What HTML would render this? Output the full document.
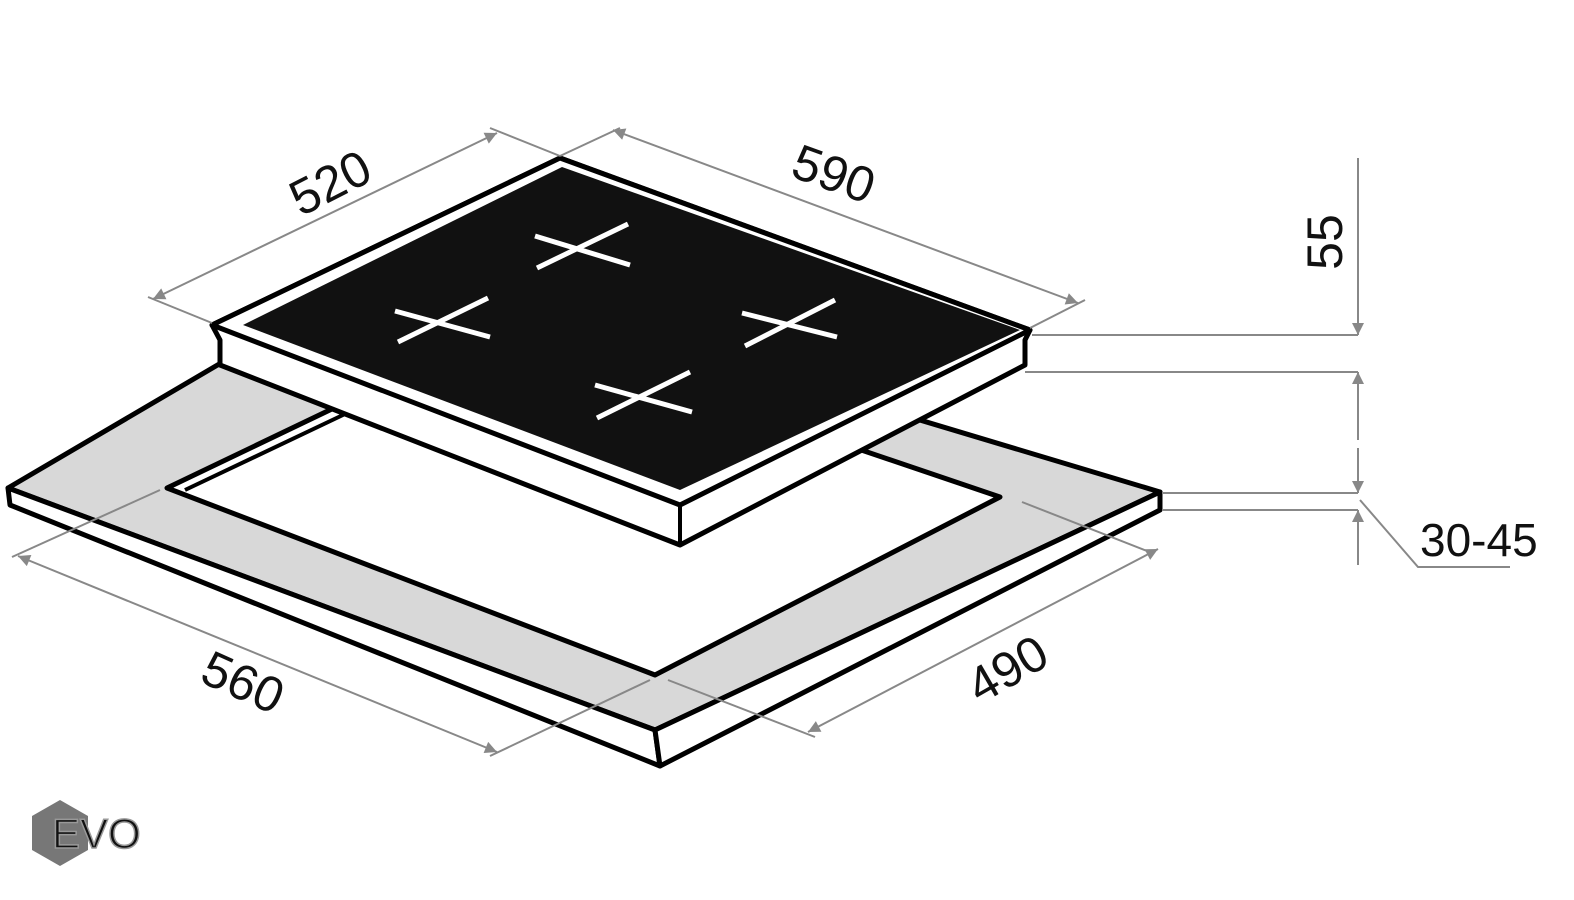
<!DOCTYPE html>
<html><head><meta charset="utf-8"><style>
html,body{margin:0;padding:0;background:#fff;width:1574px;height:900px;overflow:hidden}
svg{display:block}
text{font-family:"Liberation Sans",sans-serif;fill:#111}
</style></head><body>
<svg width="1574" height="900" viewBox="0 0 1574 900" xmlns="http://www.w3.org/2000/svg">
<defs>
<marker id="a" viewBox="0 0 10 10" refX="10" refY="5" markerWidth="14" markerHeight="12" markerUnits="userSpaceOnUse" orient="auto-start-reverse"><path d="M0,0 L10,5 L0,10 z" fill="#888"/></marker>
</defs>
<!-- countertop -->
<polygon points="8,488 655,730 1160,492 393,262" fill="#d8d8d8" stroke="#000" stroke-width="5" stroke-linejoin="round"/>
<polygon points="8,488 655,730 660,766 10,505" fill="#fff" stroke="#000" stroke-width="5" stroke-linejoin="round"/>
<polygon points="655,730 1160,492 1160,510 660,766" fill="#fff" stroke="#000" stroke-width="5" stroke-linejoin="round"/>
<!-- cutout -->
<polygon points="167,488 655,675 1000,497 501,328" fill="#fff" stroke="#000" stroke-width="5" stroke-linejoin="round"/>
<line x1="185" y1="490" x2="345" y2="414" stroke="#000" stroke-width="4"/>
<!-- hob -->
<polygon points="212,325 220,340 220,365 680,545 1025,365 1025,340 1030,330 560,158" fill="#fff" stroke="#000" stroke-width="5" stroke-linejoin="round"/>
<line x1="680" y1="505" x2="680" y2="545" stroke="#000" stroke-width="4"/>
<polygon points="212,325 680,505 1030,330 560,158" fill="#fff" stroke="#000" stroke-width="5" stroke-linejoin="round"/>
<polygon points="243,325 680,490 1020,330 562,167" fill="#111"/>
<g stroke="#fff" stroke-width="5" stroke-linecap="butt">
<line x1="535" y1="236" x2="630" y2="265"/><line x1="537" y1="268" x2="628" y2="224"/>
<line x1="395" y1="311" x2="490" y2="337"/><line x1="398" y1="342" x2="488" y2="298"/>
<line x1="742" y1="313" x2="837" y2="337"/><line x1="745" y1="346" x2="835" y2="300"/>
<line x1="595" y1="385" x2="692" y2="412"/><line x1="597" y1="418" x2="690" y2="372"/>
</g>
<!-- dimensions -->
<g stroke="#888" stroke-width="2" fill="none">
<line x1="212" y1="323" x2="148" y2="297"/>
<line x1="560" y1="156" x2="490" y2="128"/>
<line x1="560" y1="156" x2="620" y2="128"/>
<line x1="1030" y1="328" x2="1085" y2="300"/>
<line x1="153" y1="299" x2="497" y2="133" marker-start="url(#a)" marker-end="url(#a)"/>
<line x1="613" y1="130" x2="1078" y2="303" marker-start="url(#a)" marker-end="url(#a)"/>
<line x1="1032" y1="335" x2="1358" y2="335"/>
<line x1="1025" y1="372" x2="1358" y2="372"/>
<line x1="1162" y1="493" x2="1358" y2="493"/>
<line x1="1162" y1="510" x2="1358" y2="510"/>
<line x1="1358" y1="158" x2="1358" y2="335" marker-end="url(#a)"/>
<line x1="1358" y1="440" x2="1358" y2="372" marker-end="url(#a)"/>
<line x1="1358" y1="448" x2="1358" y2="493" marker-end="url(#a)"/>
<line x1="1358" y1="565" x2="1358" y2="510" marker-end="url(#a)"/>
<polyline points="1360,500 1418,567 1510,567"/>
<line x1="160" y1="490" x2="12" y2="557"/>
<line x1="650" y1="680" x2="490" y2="756"/>
<line x1="18" y1="556" x2="497" y2="752" marker-start="url(#a)" marker-end="url(#a)"/>
<line x1="668" y1="680" x2="815" y2="737"/>
<line x1="1022" y1="502" x2="1152" y2="553"/>
<line x1="808" y1="732" x2="1158" y2="549" marker-start="url(#a)" marker-end="url(#a)"/>
</g>
<text x="0" y="0" font-size="50" text-anchor="middle" transform="translate(338,198) rotate(-27)">520</text>
<text x="0" y="0" font-size="50" text-anchor="middle" transform="translate(828,190) rotate(20)">590</text>
<text x="0" y="0" font-size="50" text-anchor="middle" transform="translate(1342,242) rotate(-90)">55</text>
<text x="1420" y="556" font-size="46">30-45</text>
<text x="0" y="0" font-size="50" text-anchor="middle" transform="translate(236,698) rotate(24)">560</text>
<text x="0" y="0" font-size="50" text-anchor="middle" transform="translate(1016,684) rotate(-30)">490</text>
<!-- logo -->
<polygon points="60,800 88,816 88,850 60,866 32,850 32,816" fill="#777"/>
<text x="52" y="848" font-size="42" fill="#fff" stroke="#999" stroke-width="1.5">EVO</text>
</svg>
</body></html>
